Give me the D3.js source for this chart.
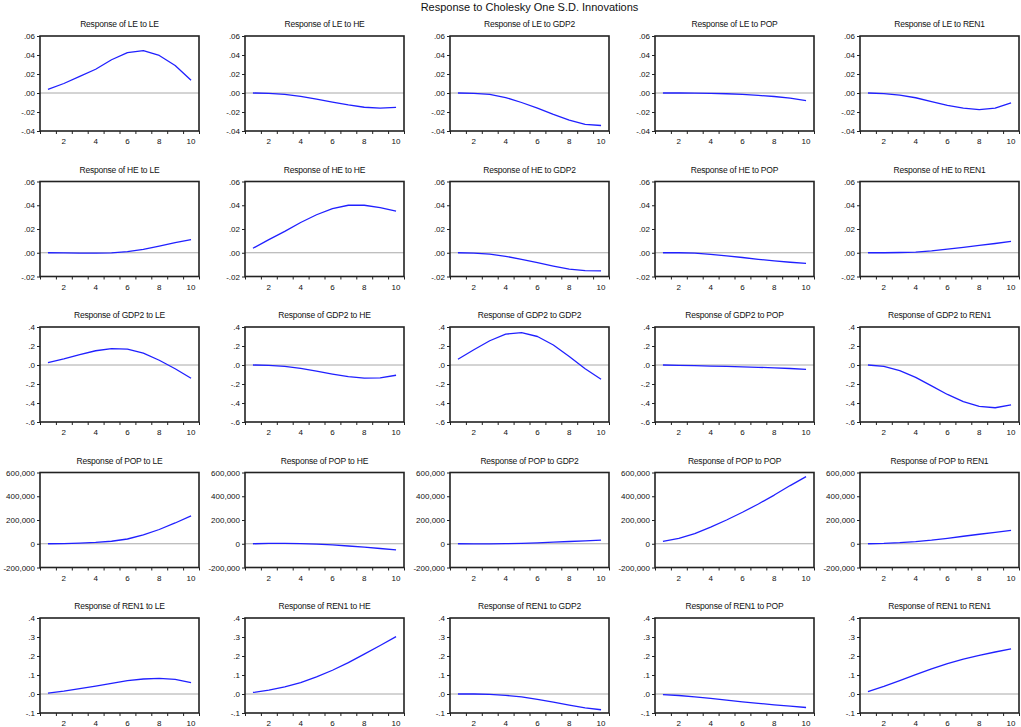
<!DOCTYPE html>
<html>
<head>
<meta charset="utf-8">
<script src="https://cdn.jsdelivr.net/npm/d3@7"></script>
<style>
  body { margin: 0; background: #fff; }
  svg { font-family: "Liberation Sans", Arial, sans-serif; }
</style>
</head>
<body>
<div id="chart"></div>
<script>
// Impulse responses, Cholesky one S.D. innovations, periods 1..10

const variables = ["LE", "HE", "GDP2", "POP", "REN1"];
const periods = [1, 2, 3, 4, 5, 6, 7, 8, 9, 10];

// y-axis settings per response variable (row)
const rowDomains = [[-0.04, 0.06], [-0.02, 0.06], [-0.6, 0.4], [-200000, 600000], [-0.1, 0.4]];
const rowTickSteps = [0.02, 0.02, 0.2, 200000, 0.1];
const rowDecimals = [2, 2, 1, 0, 1];

// response of LE to LE, HE, GDP2, POP, REN1
const leToLE = [0.0038, 0.0100, 0.0175, 0.0250, 0.0350, 0.0425, 0.0445, 0.0395, 0.0290, 0.0135];
const leToHE = [0.0000, -0.0004, -0.0015, -0.0035, -0.0065, -0.0095, -0.0125, -0.0150, -0.0160, -0.0152];
const leToGDP2 = [0.0000, -0.0003, -0.0015, -0.0048, -0.0100, -0.0160, -0.0225, -0.0285, -0.0330, -0.0342];
const leToPOP = [0.0000, 0.0000, -0.0002, -0.0004, -0.0008, -0.0015, -0.0025, -0.0037, -0.0055, -0.0080];
const leToREN1 = [0.0000, -0.0006, -0.0022, -0.0050, -0.0090, -0.0130, -0.0160, -0.0175, -0.0160, -0.0103];

// response of HE
const heToLE = [0.0000, -0.0001, -0.0003, -0.0004, -0.0001, 0.0010, 0.0028, 0.0055, 0.0085, 0.0110];
const heToHE = [0.0038, 0.0110, 0.0180, 0.0255, 0.0320, 0.0372, 0.0400, 0.0400, 0.0380, 0.0350];
const heToGDP2 = [0.0000, -0.0003, -0.0012, -0.0030, -0.0055, -0.0083, -0.0112, -0.0138, -0.0150, -0.0152];
const heToPOP = [0.0000, 0.0000, -0.0004, -0.0013, -0.0026, -0.0040, -0.0055, -0.0068, -0.0080, -0.0090];
const heToREN1 = [0.0000, 0.0000, 0.0002, 0.0006, 0.0015, 0.0030, 0.0045, 0.0062, 0.0078, 0.0095];

// response of GDP2
const gdpToLE = [0.025, 0.065, 0.110, 0.150, 0.172, 0.168, 0.125, 0.050, -0.040, -0.140];
const gdpToHE = [0.000, -0.004, -0.015, -0.035, -0.065, -0.095, -0.122, -0.138, -0.135, -0.108];
const gdpToGDP2 = [0.060, 0.160, 0.255, 0.325, 0.340, 0.300, 0.210, 0.090, -0.040, -0.150];
const gdpToPOP = [0.000, -0.003, -0.007, -0.011, -0.015, -0.020, -0.024, -0.030, -0.037, -0.045];
const gdpToREN1 = [0.000, -0.015, -0.060, -0.130, -0.220, -0.310, -0.385, -0.435, -0.450, -0.420];

// response of POP
const popToLE = [0, 1500, 5000, 11000, 21000, 40000, 75000, 120000, 175000, 235000];
const popToHE = [0, 3000, 3000, 1000, -3000, -10000, -19000, -29000, -40000, -52000];
const popToGDP2 = [0, -500, -500, 500, 3000, 7500, 13000, 19000, 25000, 30000];
const popToPOP = [20000, 45000, 85000, 140000, 200000, 265000, 335000, 410000, 490000, 565000];
const popToREN1 = [0, 3000, 9000, 18000, 30000, 46000, 63000, 80000, 96000, 112000];

// response of REN1
const renToLE = [0.005, 0.015, 0.028, 0.042, 0.056, 0.070, 0.079, 0.082, 0.077, 0.060];
const renToHE = [0.008, 0.020, 0.038, 0.060, 0.090, 0.125, 0.165, 0.210, 0.255, 0.302];
const renToGDP2 = [0.000, 0.000, -0.002, -0.007, -0.015, -0.028, -0.043, -0.058, -0.073, -0.083];
const renToPOP = [-0.003, -0.008, -0.015, -0.023, -0.032, -0.041, -0.049, -0.057, -0.064, -0.071];
const renToREN1 = [0.013, 0.040, 0.070, 0.102, 0.132, 0.160, 0.183, 0.203, 0.221, 0.238];

const responses = [
  [leToLE, leToHE, leToGDP2, leToPOP, leToREN1],
  [heToLE, heToHE, heToGDP2, heToPOP, heToREN1],
  [gdpToLE, gdpToHE, gdpToGDP2, gdpToPOP, gdpToREN1],
  [popToLE, popToHE, popToGDP2, popToPOP, popToREN1],
  [renToLE, renToHE, renToGDP2, renToPOP, renToREN1]
];

const width = 1021;
const height = 727;

const plotLeft = 40;
const plotTop = 36;
const colStep = 205;
const rowStep = 145.5;
const plotW = 159;
const plotH = 95;

const svg = d3.select("#chart")
  .append("svg")
  .attr("width", width)
  .attr("height", height);

svg.append("text")
  .attr("x", plotLeft + (4 * colStep + plotW) / 2)
  .attr("y", 11)
  .attr("text-anchor", "middle")
  .style("font-size", "11px")
  .style("fill", "#111")
  .text("Response to Cholesky One S.D. Innovations");

const x = d3.scaleLinear().domain([0.5, 10.5]).range([0, plotW]);
const boundaries = d3.range(0.5, 11, 1);

function fmtTick(decimals) {
  if (decimals === 0) {
    const f0 = d3.format(",");
    return (v) => f0(v).replace("−", "-");
  }
  const f = d3.format(`.${decimals}f`);
  return (v) => f(v).replace("−", "-").replace("0.", ".");
}

variables.forEach((resp, r) => {
  const y = d3.scaleLinear().domain(rowDomains[r]).range([plotH, 0]);
  const yTicks = d3.range(rowDomains[r][0], rowDomains[r][1] + rowTickSteps[r] / 2, rowTickSteps[r]);
  const fmt = fmtTick(rowDecimals[r]);

  variables.forEach((imp, c) => {
    const g = svg.append("g")
      .attr("transform", `translate(${plotLeft + c * colStep},${plotTop + r * rowStep})`);

    g.append("text")
      .attr("x", plotW / 2)
      .attr("y", -9)
      .attr("text-anchor", "middle")
      .style("font-size", "8.5px")
      .style("letter-spacing", "-0.2px")
      .style("fill", "#111")
      .text(`Response of ${resp} to ${imp}`);

    // zero line
    g.append("line")
      .attr("x1", 0)
      .attr("x2", plotW)
      .attr("y1", y(0))
      .attr("y2", y(0))
      .attr("stroke", "#a8a8a8")
      .attr("stroke-width", 1);

    // response line
    const line = d3.line()
      .x((d, i) => x(periods[i]))
      .y((d) => y(d));

    g.append("path")
      .datum(responses[r][c])
      .attr("d", line)
      .attr("fill", "none")
      .attr("stroke", "#2020ff")
      .attr("stroke-width", 1.3)
      .attr("stroke-linejoin", "round");

    // y axis
    const yAxis = d3.axisLeft(y)
      .tickValues(yTicks)
      .tickFormat(fmt)
      .tickSize(3)
      .tickPadding(2);

    const ya = g.append("g").call(yAxis);
    ya.select(".domain").remove();
    ya.selectAll("line").attr("stroke", "#222");
    ya.selectAll("text").style("font-size", "8px").style("fill", "#111");

    // x axis: ticks between periods, labels on even periods
    const xa = g.append("g").attr("transform", `translate(0,${plotH})`);
    xa.call(d3.axisBottom(x).tickValues(boundaries).tickSize(3).tickFormat(""))
      .select(".domain").remove();
    xa.selectAll("line").attr("stroke", "#222");
    xa.selectAll(".lbl")
      .data([2, 4, 6, 8, 10])
      .enter()
      .append("text")
      .attr("class", "lbl")
      .attr("x", (d) => x(d))
      .attr("y", 13)
      .attr("text-anchor", "middle")
      .style("font-size", "8px")
      .style("fill", "#111")
      .text((d) => d);

    // frame
    g.append("rect")
      .attr("width", plotW)
      .attr("height", plotH)
      .attr("fill", "none")
      .attr("stroke", "#222")
      .attr("stroke-width", 1.6);
  });
});
</script>
</body>
</html>
